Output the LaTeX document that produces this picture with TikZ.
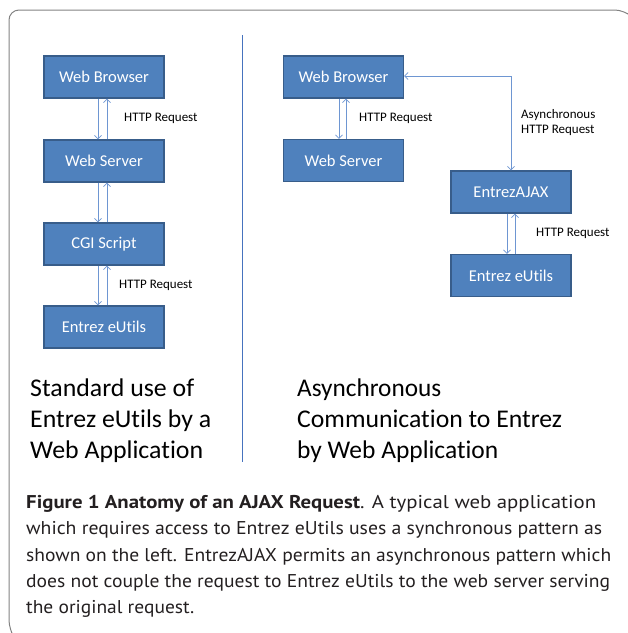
\documentclass[tikz,border=0pt]{standalone}
\usepackage{fontspec}
\usepackage{graphicx}
\setmainfont{Carlito}[Ligatures=NoCommon]
\newfontfamily\capfont{PT Sans}
\usetikzlibrary{arrows.meta}
\newcommand{\fitw}[2]{\resizebox{#1pt}{\height}{#2}}
\definecolor{boxfill}{RGB}{79,129,189}
\definecolor{boxline}{RGB}{56,93,138}
\definecolor{arrcol}{RGB}{110,150,210}
\definecolor{divcol}{RGB}{70,115,190}
\definecolor{framecol}{RGB}{130,130,130}
\definecolor{captext}{RGB}{35,31,32}
\tikzset{
  box/.style={draw=boxline, line width=1.2pt, fill=boxfill, minimum width=120pt, minimum height=42pt, inner sep=0pt, text=white, font=\fontsize{16.5}{18}\selectfont},
  arr/.style={draw=arrcol, line width=0.8pt, -{Straight Barb[length=3.5pt,width=7pt]}},
  arrb/.style={draw=arrcol, line width=0.8pt, {Straight Barb[length=3.5pt,width=7pt]}-{Straight Barb[length=3.5pt,width=7pt]}},
  lbl/.style={inner sep=0pt, anchor=west, font=\fontsize{13}{15}\selectfont},
  ttl/.style={inner sep=0pt, anchor=base west, font=\fontsize{25.5}{30}\selectfont},
  captxt/.style={inner sep=0pt, anchor=base west, text=captext, font=\capfont\fontsize{18.5}{22}\selectfont},
}
\begin{document}
\begin{tikzpicture}[x=1pt,y=-1pt]
\useasboundingbox (0,0) rectangle (628,633);
% frame
\draw[framecol, line width=1pt, rounded corners=10pt] (11,633) -- (9,630) -- (9,10) -- (625,10) -- (628,13);
\draw[divcol, line width=0.8pt] (242,35) -- (242,462);
% left column
\node[box] (lwb) at (104,77) {Web Browser};
\node[box] (lws) at (104,161) {Web Server};
\node[box] (lcgi) at (104,244) {CGI Script};
\node[box] (leu) at (104,327) {Entrez eUtils};
\draw[arr] ([xshift=-6pt]lwb.south) -- ([xshift=-6pt]lws.north);
\draw[arr] ([xshift=3pt]lws.north) -- ([xshift=3pt]lwb.south);
\draw[arr] ([xshift=-6pt]lws.south) -- ([xshift=-6pt]lcgi.north);
\draw[arr] ([xshift=3pt]lcgi.north) -- ([xshift=3pt]lws.south);
\draw[arr] ([xshift=-6pt]lcgi.south) -- ([xshift=-6pt]leu.north);
\draw[arr] ([xshift=3pt]leu.north) -- ([xshift=3pt]lcgi.south);
\node[lbl] (l1) at (124,118) {HTTP Request};
\node[lbl] (l2) at (119,285) {HTTP Request};
% right column
\node[box] (rwb) at (343.5,77) {Web Browser};
\node[box] (rws) at (343.5,160.5) {Web Server};
\node[box] (ajax) at (511,192) {EntrezAJAX};
\node[box] (reu) at (511,275.5) {Entrez eUtils};
\draw[arr] ([xshift=-4.5pt]rwb.south) -- ([xshift=-4.5pt]rws.north);
\draw[arr] ([xshift=2.5pt]rws.north) -- ([xshift=2.5pt]rwb.south);
\draw[arrb] ([yshift=1pt]rwb.east) -| (ajax.north);
\draw[arr] ([xshift=-4pt]ajax.south) -- ([xshift=-4pt]reu.north);
\draw[arr] ([xshift=4pt]reu.north) -- ([xshift=4pt]ajax.south);
\node[lbl] (r1) at (359,118) {HTTP Request};
\node[lbl, align=left] (r2) at (521,122.5) {Asynchronous\\HTTP Request};
\node[lbl] (r3) at (536,233) {HTTP Request};
% titles
\node[ttl] (t1) at (30,396) {\fitw{164}{Standard use of}};
\node[ttl] (t2) at (30,427) {\fitw{181}{Entrez eUtils by a}};
\node[ttl] (t3) at (30,458) {\fitw{173}{Web Application}};
\node[ttl] (t4) at (297,396) {\fitw{144}{Asynchronous}};
\node[ttl] (t5) at (297,427) {\fitw{265}{Communication to Entrez}};
\node[ttl] (t6) at (297,458) {\fitw{201}{by Web Application}};
% caption
\node[captxt] (c1) at (26,508) {\fitw{570}{\textbf{Figure 1 Anatomy of an AJAX Request}. A typical web application}};
\node[captxt] (c2) at (26,534.5) {\fitw{576}{which requires access to Entrez eUtils uses a synchronous pattern as}};
\node[captxt] (c3) at (26,561) {\fitw{585}{shown on the left. EntrezAJAX permits an asynchronous pattern which}};
\node[captxt] (c4) at (26,587) {\fitw{584}{does not couple the request to Entrez eUtils to the web server serving}};
\node[captxt] (c5) at (26,613) {\fitw{168}{the original request.}};
\end{tikzpicture}
\end{document}
